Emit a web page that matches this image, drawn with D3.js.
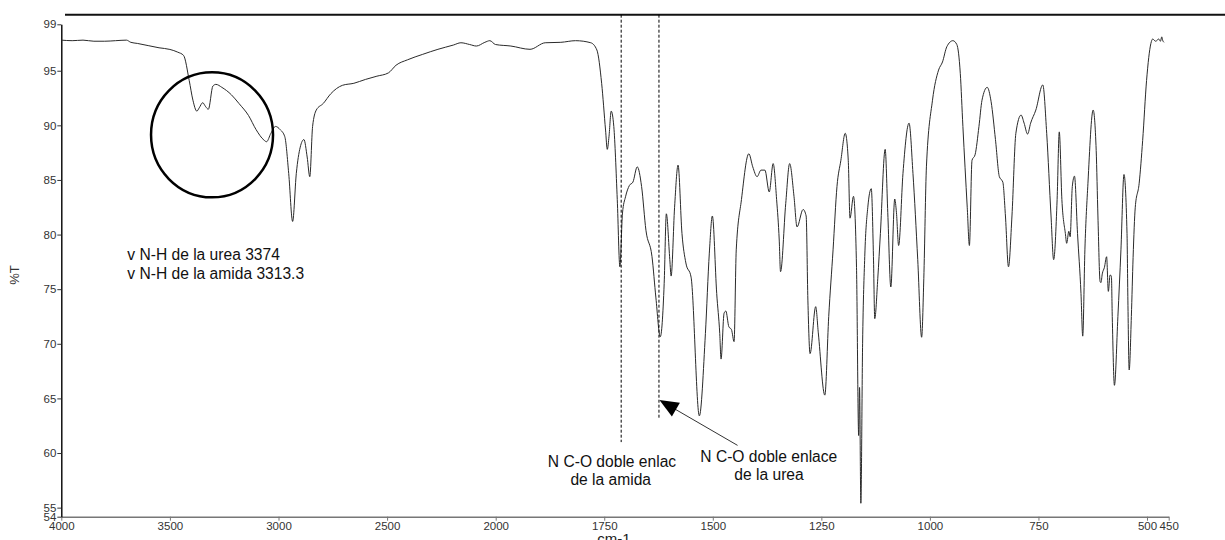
<!DOCTYPE html>
<html>
<head>
<meta charset="utf-8">
<script src="https://cdn.jsdelivr.net/npm/d3@7"></script>
<style>
  body { margin: 0; background: #fff; }
  svg { display: block; font-family: "Liberation Sans", Arial, sans-serif; }
  .tick text { fill: #333; font-size: 11.5px; }
  .annot { fill: #111; font-size: 15.6px; }
</style>
</head>
<body>
<svg id="chart" width="1225" height="540"></svg>
<script>
// IR spectrum: wavenumber (cm-1) and transmittance (%T)
const waveNumbers = [
  4000, 3950, 3900, 3850, 3800, 3750, 3700, 3680, 3650, 3600, 3550, 3500, 3464, 3437,
  3411, 3394, 3376, 3365, 3349, 3335, 3323, 3302, 3288, 3261, 3217, 3182, 3138, 3103,
  3067, 3055, 3035, 3014, 2992, 2971, 2953, 2935, 2918, 2900, 2883, 2868, 2856, 2843,
  2826, 2794, 2759, 2706, 2653, 2600, 2547, 2494, 2459, 2406, 2336, 2266, 2195, 2160,
  2120, 2089, 2050, 2027, 2001, 1965, 1921, 1886, 1850, 1816, 1781, 1767, 1756, 1747,
  1743, 1739, 1734, 1728, 1720, 1714, 1708, 1701, 1692, 1684, 1674, 1664, 1654, 1640,
  1631, 1621, 1612, 1607, 1599, 1596, 1588, 1580, 1571, 1562, 1550, 1531, 1517, 1508,
  1501, 1491, 1484, 1481, 1474, 1470, 1463, 1457, 1451, 1446, 1434, 1417, 1408, 1398,
  1389, 1380, 1370, 1361, 1353, 1347, 1344, 1332, 1323, 1313, 1306, 1292, 1285, 1281,
  1276, 1263, 1257, 1242, 1233, 1223, 1214, 1205, 1195, 1188, 1184, 1176, 1169, 1164,
  1162, 1159, 1155, 1150, 1143, 1135, 1130, 1127, 1120, 1114, 1103, 1097, 1090, 1081,
  1077, 1072, 1062, 1048, 1039, 1028, 1019, 1014, 1008, 994, 980, 971, 961, 947,
  938, 930, 924, 914, 909, 903, 896, 887, 880, 868, 859, 849, 840, 832,
  826, 819, 811, 802, 790, 783, 775, 768, 756, 740, 731, 721, 715, 707,
  702, 696, 688, 685, 680, 677, 672, 667, 660, 652, 648, 643, 636, 624,
  617, 613, 608, 606, 603, 598, 593, 589, 585, 582, 580, 575, 567, 560,
  553, 546, 544, 541, 536, 532, 527, 518, 510, 501, 491, 487, 480, 473,
  469, 466, 464, 461
];
const transmittance = [
  97.8, 97.75, 97.8, 97.7, 97.7, 97.75, 97.8, 97.6, 97.5, 97.3, 97.1, 96.95, 96.7, 96.4,
  94.1, 92.3, 91.3, 91.6, 92.07, 91.7, 91.47, 93.6, 93.75, 93.48, 92.8, 92.0, 90.9, 89.6,
  88.65, 88.5, 89.27, 89.9, 89.6, 88.96, 85.6, 81.2, 85.6, 88.0, 88.7, 87.1, 85.3, 89.9,
  91.4, 92.0, 92.9, 93.66, 93.85, 94.2, 94.5, 94.8, 95.5, 96.0, 96.5, 96.96, 97.35, 97.56,
  97.4, 97.26, 97.6, 97.75, 97.4, 97.26, 96.96, 97.56, 97.6, 97.75, 97.56, 96.9, 93.85, 89.57,
  87.8, 89.0, 91.3, 89.9, 83.2, 77.05, 81.97, 83.46, 84.5, 84.8, 86.2, 84.4, 80.4, 77.97,
  74.2, 70.64, 75.5, 81.9, 77.7, 76.2, 82.5, 86.36, 80.1, 77.4, 76.1, 63.4, 70.95, 78.3,
  81.7, 74.6, 70.95, 68.6, 72.8, 73.0, 71.56, 71.3, 70.2, 78.6, 83.2, 87.4, 86.2, 85.3,
  85.9, 85.9, 83.9, 86.5, 83.2, 79.5, 76.6, 82.86, 86.5, 83.5, 80.7, 82.3, 81.7, 74.0,
  69.1, 73.4, 71.0, 65.3, 72.5, 78.6, 84.4, 86.8, 89.27, 86.8, 81.5, 83.5, 77.0, 61.6,
  66.0, 55.4, 70.0, 78.0, 82.5, 84.2, 78.0, 72.3, 76.0, 80.1, 87.8, 82.0, 75.2, 83.25,
  82.0, 79.0, 85.6, 90.2, 85.6, 77.7, 70.6, 76.0, 86.2, 92.3, 95.06, 95.8, 97.2, 97.75,
  97.4, 94.76, 89.9, 82.5, 79.0, 86.8, 87.3, 89.9, 92.3, 93.48, 92.16, 88.7, 85.3, 84.8,
  81.7, 77.05, 81.7, 89.27, 90.94, 90.2, 89.2, 90.2, 91.4, 93.7, 89.27, 81.7, 77.7, 83.2,
  89.4, 83.2, 80.1, 79.2, 80.3, 79.8, 84.4, 85.35, 80.1, 74.6, 70.7, 78.6, 84.7, 91.4,
  87.7, 81.7, 75.7, 75.6, 76.4, 77.0, 77.97, 74.8, 76.3, 76.2, 72.5, 66.2, 72.5, 78.6,
  85.5, 80.1, 74.0, 67.6, 72.5, 77.9, 82.5, 84.7, 88.6, 94.1, 97.5, 97.9, 97.7, 97.9,
  97.7, 98.1, 97.8, 97.6
];

// axes: the spectrometer stretches the scale 2x below 2000 cm-1
const xBreaks = [4000, 2000, 450];
const xTickValues = [4000, 3500, 3000, 2500, 2000, 1750, 1500, 1250, 1000, 750, 500, 450];
const yDomain = [54.17, 99.25]; // ends are labelled 54 and 99
const yTickValues = [55, 60, 65, 70, 75, 80, 85, 90, 95];

// band assignments
const nhLabels = ["v N-H de la urea 3374", "v N-H de la amida 3313.3"];
const amideBand = 1711, ureaBand = 1624;

const svg = d3.select("#chart");

const x = d3.scaleLinear().domain(xBreaks).range([61.3, 495.7, 1168.7]);
const y = d3.scaleLinear().domain(yDomain).range([516.7, 24.3]);

// frame line above the plot
svg.append("line")
  .attr("x1", 65).attr("x2", 1225)
  .attr("y1", 14.7).attr("y2", 14.7)
  .attr("stroke", "#111").attr("stroke-width", 2);

// x axis
const gx = svg.append("g")
  .attr("transform", `translate(0, ${y(yDomain[0])})`)
  .call(d3.axisBottom(x).tickValues(xTickValues).tickFormat(d3.format("d"))
    .tickSize(4).tickPadding(1).tickSizeOuter(0));
gx.select(".domain").attr("stroke", "#777").attr("stroke-width", 1.4);
gx.selectAll(".tick line").attr("stroke", "#777");

// y axis
const gy = svg.append("g")
  .attr("transform", `translate(${x(xBreaks[0])}, 0)`)
  .call(d3.axisLeft(y)
    .tickValues([yDomain[0], ...yTickValues, yDomain[1]])
    .tickFormat(d => Math.round(d))
    .tickSize(4).tickPadding(1).tickSizeOuter(0));
gy.select(".domain").attr("stroke", "#000").attr("stroke-width", 1.4);
gy.selectAll(".tick line").attr("stroke", "#333");

// axis titles
svg.append("text")
  .attr("transform", "translate(19, 275) rotate(-90)")
  .attr("text-anchor", "middle")
  .attr("fill", "#333").attr("font-size", 13)
  .text("%T");
svg.append("text")
  .attr("x", 614).attr("y", 544)
  .attr("text-anchor", "middle")
  .attr("fill", "#222").attr("font-size", 15)
  .text("cm-1");

// the spectrum
const spectrum = waveNumbers.map((w, i) => ({ w: w, t: transmittance[i] }));
svg.append("path")
  .datum(spectrum)
  .attr("fill", "none")
  .attr("stroke", "#2a2a2a")
  .attr("stroke-width", 1)
  .attr("stroke-linejoin", "round")
  .attr("d", d3.line().curve(d3.curveMonotoneX).x(d => x(d.w)).y(d => y(d.t)));

// dashed markers for the C=O bands
[[amideBand, 61.0], [ureaBand, 63.2]].forEach(([w, tBottom]) => {
  svg.append("line")
    .attr("x1", x(w)).attr("x2", x(w))
    .attr("y1", 14.7).attr("y2", y(tBottom))
    .attr("stroke", "#000").attr("stroke-width", 1)
    .attr("stroke-dasharray", "3,2");
});

// circle round the N-H bands
svg.append("ellipse")
  .attr("cx", x(3306)).attr("cy", y(89.13))
  .attr("rx", 61).attr("ry", 62.5)
  .attr("fill", "none").attr("stroke", "#000").attr("stroke-width", 2.5);

// arrow pointing at the urea line
const tip = [x(ureaBand) + 0.5, y(64.85)];
const tail = [x(1443), y(60.7)];
svg.append("line")
  .attr("x1", tail[0]).attr("y1", tail[1])
  .attr("x2", tip[0] + 12).attr("y2", tip[1] + 7)
  .attr("stroke", "#333").attr("stroke-width", 1);
const ang = Math.atan2(tail[1] - tip[1], tail[0] - tip[0]);
const len = 19, half = 8;
const bx = tip[0] + len * Math.cos(ang), by = tip[1] + len * Math.sin(ang);
svg.append("path")
  .attr("d", `M${tip[0]},${tip[1]}L${bx - half * Math.sin(ang)},${by + half * Math.cos(ang)}L${bx + half * Math.sin(ang)},${by - half * Math.cos(ang)}Z`)
  .attr("fill", "#000");

// annotations
nhLabels.forEach((s, i) => {
  svg.append("text").attr("class", "annot")
    .attr("x", 127.3).attr("y", 260 + i * 19.3)
    .text(s);
});

const amideText = svg.append("text").attr("class", "annot").attr("text-anchor", "middle");
amideText.append("tspan").attr("x", 612).attr("y", 467.3).text("N C-O doble enlac");
amideText.append("tspan").attr("x", 610.7).attr("y", 485).text("de la amida");

const ureaText = svg.append("text").attr("class", "annot").attr("text-anchor", "middle");
ureaText.append("tspan").attr("x", 768.8).attr("y", 462.3).text("N C-O doble enlace");
ureaText.append("tspan").attr("x", 769).attr("y", 480).text("de la urea");
</script>
</body>
</html>
